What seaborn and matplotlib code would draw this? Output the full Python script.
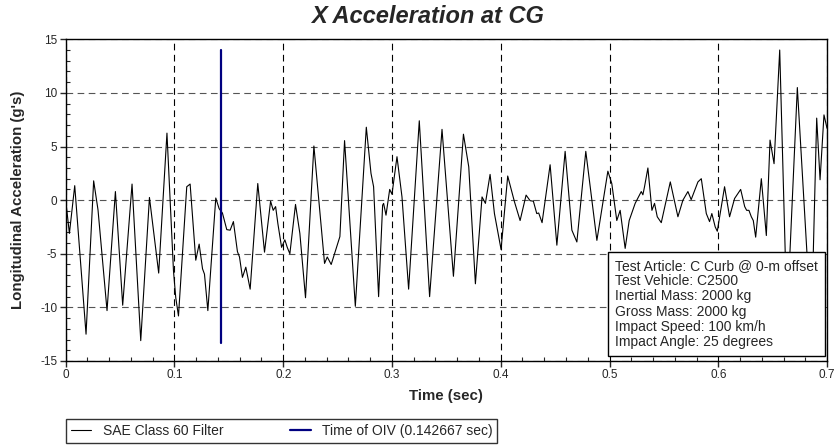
import numpy as np
import pandas as pd
import matplotlib
matplotlib.use("Agg")
import matplotlib.pyplot as plt
from matplotlib.ticker import MultipleLocator
import seaborn as sns


# Filtered X acceleration trace (time in sec, accel in g's)
time_sec = [
    0.0000, 0.0034, 0.0083, 0.0187, 0.0257, 0.0297, 0.0380, 0.0457, 0.0524, 0.0610,
    0.0690, 0.0770, 0.0855, 0.0931, 0.0991, 0.1012, 0.1037, 0.1113, 0.1144, 0.1196,
    0.1227, 0.1258, 0.1276, 0.1307, 0.1380, 0.1411, 0.1441, 0.1481, 0.1512, 0.1542,
    0.1579, 0.1598, 0.1625, 0.1656, 0.1696, 0.1766, 0.1828, 0.1884, 0.1908, 0.1930,
    0.1951, 0.1985, 0.2015, 0.2037, 0.2061, 0.2113, 0.2153, 0.2205, 0.2282, 0.2380,
    0.2405, 0.2441, 0.2481, 0.2521, 0.2564, 0.2663, 0.2764, 0.2807, 0.2831, 0.2877,
    0.2914, 0.2923, 0.2945, 0.2979, 0.3000, 0.3046, 0.3092, 0.3153, 0.3251, 0.3346,
    0.3460, 0.3565, 0.3657, 0.3706, 0.3767, 0.3828, 0.3859, 0.3902, 0.3942, 0.4003,
    0.4064, 0.4126, 0.4178, 0.4233, 0.4270, 0.4300, 0.4331, 0.4349, 0.4380, 0.4454,
    0.4516, 0.4592, 0.4654, 0.4700, 0.4782, 0.4884, 0.4985, 0.5021, 0.5067, 0.5098,
    0.5144, 0.5181, 0.5236, 0.5292, 0.5307, 0.5322, 0.5353, 0.5390, 0.5414, 0.5439,
    0.5476, 0.5559, 0.5629, 0.5675, 0.5721, 0.5751, 0.5813, 0.5844, 0.5890, 0.5920,
    0.5941, 0.5972, 0.5991, 0.6058, 0.6104, 0.6150, 0.6206, 0.6243, 0.6261, 0.6282,
    0.6304, 0.6322, 0.6344, 0.6396, 0.6442, 0.6476, 0.6513, 0.6565, 0.6632, 0.6727,
    0.6856, 0.6905, 0.6936, 0.6972, 0.7000,
]
accel_g = [
    0.0, -3.1, 1.35, -12.5, 1.8, -0.9, -10.3, 0.8, -9.8, 1.5,
    -13.1, 0.25, -6.8, 6.25, -6.6, -9.1, -10.8, 1.25, 1.5, -5.6,
    -4.1, -6.4, -6.9, -10.3, 0.2, -0.8, -1.2, -2.75, -2.8, -2.0,
    -4.8, -5.3, -7.2, -6.25, -8.3, 1.55, -4.85, -0.1, -0.95, -0.6,
    -2.2, -4.4, -3.7, -4.4, -5.0, -0.4, -3.1, -9.1, 5.05, -5.9,
    -5.3, -6.0, -4.7, -3.4, 5.55, -9.9, 6.8, 2.5, 1.25, -9.0,
    -0.47, -0.3, -1.4, 1.0, 0.55, 4.05, 0.3, -8.3, 7.4, -9.0,
    6.6, -7.1, 6.15, 3.1, -7.8, 0.3, -0.3, 2.4, -1.25, -4.6,
    2.25, -0.15, -1.9, 0.47, -0.05, -0.1, -1.25, -1.2, -2.1, 3.3,
    -4.2, 4.55, -2.8, -3.9, 4.55, -3.75, 2.7, 1.55, -1.9, -0.95,
    -4.5, -1.9, -0.3, 0.8, 0.5, 1.25, 3.0, -0.95, -0.3, -1.55,
    -2.1, 1.7, -1.55, 0.0, 0.8, 0.05, 1.7, 2.0, -1.25, -2.0,
    -1.25, -2.5, -2.9, 1.25, -1.55, 0.15, 1.0, -0.6, -0.95, -0.95,
    -1.55, -1.9, -3.45, 2.0, -3.3, 5.6, 3.4, 14.0, -11.0, 10.5,
    -12.0, 7.65, 1.9, 7.95, 6.7,
]

oiv_time = 0.142667
oiv_span = [-13.3, 14.0]

x_ticks = [0, 0.1, 0.2, 0.3, 0.4, 0.5, 0.6, 0.7]
x_labels = ['0', '0.1', '0.2', '0.3', '0.4', '0.5', '0.6', '0.7']
y_ticks = [-15, -10, -5, 0, 5, 10, 15]
y_labels = ['-15', '-10', '-5', '0', '5', '10', '15']

info_lines = [
    'Test Article: C Curb @ 0-m offset',
    'Test Vehicle: C2500',
    'Inertial Mass: 2000 kg',
    'Gross Mass: 2000 kg',
    'Impact Speed: 100 km/h',
    'Impact Angle: 25 degrees',
]

sns.set_style('ticks')
plt.rcParams['font.family'] = ['Liberation Sans', 'DejaVu Sans']
plt.rcParams['axes.unicode_minus'] = False

df = pd.DataFrame({'time': time_sec, 'accel': accel_g})

fig = plt.figure(figsize=(8.38, 4.48), dpi=100)
ax = fig.add_axes([0.0784, 0.1942, 0.9085, 0.7181])

sns.lineplot(data=df, x='time', y='accel', color='black', linewidth=0.8,
             label='SAE Class 60 Filter', legend=False, ax=ax, zorder=3)
ax.plot([oiv_time, oiv_time], oiv_span, color='#000080', linewidth=1.6,
        label='Time of OIV (%g sec)' % oiv_time, zorder=4)

ax.set_xlim(0, 0.7)
ax.set_ylim(-15, 15)
ax.set_xticks(x_ticks)
ax.set_xticklabels(x_labels)
ax.set_yticks(y_ticks)
ax.set_yticklabels(y_labels)
ax.xaxis.set_minor_locator(MultipleLocator(0.02))
ax.yaxis.set_minor_locator(MultipleLocator(1))
ax.tick_params(which='major', direction='out', length=4, width=1, labelsize=8.5, pad=2)
ax.tick_params(which='minor', direction='in', length=3, width=0.8)

ax.grid(axis='x', which='major', color='black', linestyle=(0, (6, 4)), linewidth=0.8)
ax.grid(axis='y', which='major', color='#555555', linestyle=(0, (6, 4)), linewidth=0.8)
ax.set_axisbelow(True)
for s in ax.spines.values():
    s.set_linewidth(1.0)
    s.set_color('black')

ax.set_xlabel('Time (sec)', fontsize=10.8, fontweight='bold')
ax.set_ylabel("Longitudinal Acceleration (g's)", fontsize=10.8, fontweight='bold')
ax.xaxis.set_label_coords(0.5, -0.088)
ax.yaxis.set_label_coords(-0.054, 0.5)

fig.text(0.51, 0.964, 'X Acceleration at CG', ha='center', va='center',
         fontsize=17, fontweight='bold', fontstyle='italic')

ax.text(0.7215, 0.318, '\n'.join(info_lines), transform=ax.transAxes,
        ha='left', va='top', fontsize=10, linespacing=1.12, zorder=6,
        bbox=dict(boxstyle='square,pad=0.5', facecolor='white',
                  edgecolor='black', linewidth=1.0))

handles, labels = ax.get_legend_handles_labels()
fig.legend(handles, labels, loc='upper left', bbox_to_anchor=(65.7 / 838, 1 - 419 / 448),
           ncol=2, fontsize=10, frameon=True, fancybox=False, edgecolor='black',
           borderaxespad=0, handlelength=1.5, columnspacing=4.8, borderpad=0.35)
leg = fig.legends[0]
leg.get_frame().set_linewidth(1.0)

fig.savefig('out.png', dpi=100)
